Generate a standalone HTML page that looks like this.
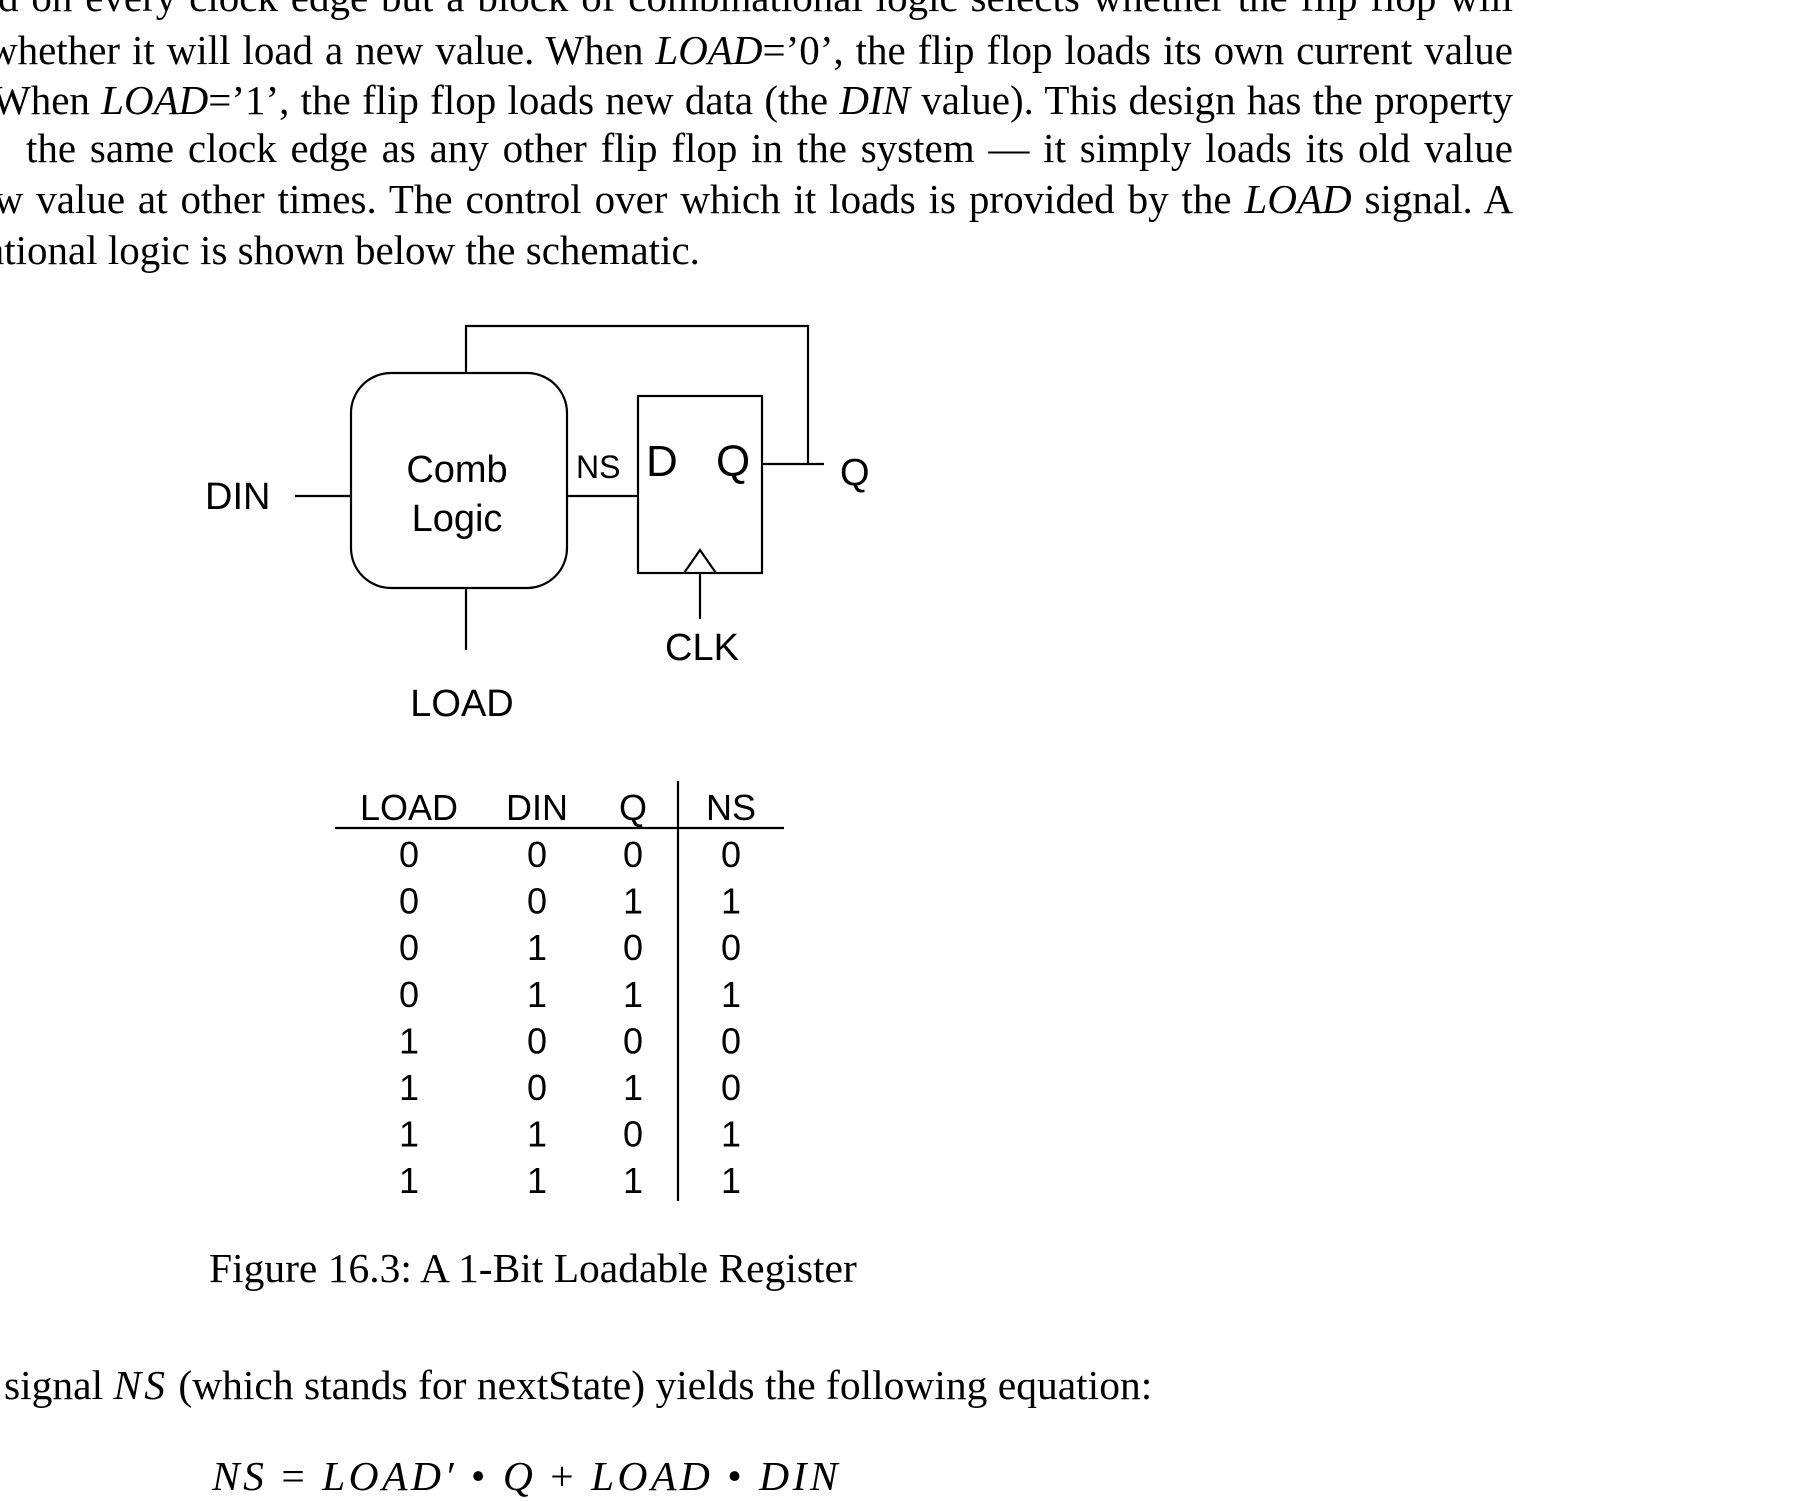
<!DOCTYPE html>
<html><head><meta charset="utf-8"><style>
html,body{margin:0;padding:0;background:#fff;}
#page{position:relative;width:1811px;height:1501px;overflow:hidden;background:#fff;}
.ln{position:absolute;font-family:"Liberation Serif",serif;font-size:41px;line-height:50px;height:50px;text-align:justify;text-align-last:justify;color:#000;white-space:normal;}
.ln i{font-style:italic;}
svg{position:absolute;left:0;top:0;}
</style></head><body>
<div id="page">
<div class="ln" style="left:-2px;width:1515px;top:-28px;">d on every clock edge but a block of combinational logic selects whether the flip flop will</div>
<div class="ln" style="left:-12px;width:1525px;top:25px;">whether it will load a new value. When <i>LOAD</i>=’0’, the flip flop loads its own current value</div>
<div class="ln" style="left:-8px;width:1521px;top:75px;">When <i>LOAD</i>=’1’, the flip flop loads new data (the <i>DIN</i> value). This design has the property</div>
<div class="ln" style="left:26px;width:1487px;top:123px;">the same clock edge as any other flip flop in the system — it simply loads its old value</div>
<div class="ln" style="left:-45px;width:1558px;top:174px;">new value at other times. The control over which it loads is provided by the <i>LOAD</i> signal. A</div>
<div class="ln" style="left:-14px;width:1000px;top:225px;text-align:left;text-align-last:left;">ational logic is shown below the schematic.</div>

<svg width="1811" height="1501" viewBox="0 0 1811 1501">
<g stroke="#000" stroke-width="2.2" fill="none">
<path d="M466 372 V326 H808 V464"/>
<rect x="351" y="373" width="216" height="215" rx="40" ry="40"/>
<rect x="638" y="396" width="124" height="177"/>
<line x1="295" y1="496" x2="351" y2="496"/>
<line x1="567" y1="496" x2="638" y2="496"/>
<line x1="762" y1="464" x2="824" y2="464"/>
<line x1="466" y1="588" x2="466" y2="650"/>
<line x1="700" y1="573" x2="700" y2="619"/>
<path d="M684 573 L700 550 L716 573"/>
<line x1="335" y1="828" x2="784" y2="828"/>
<line x1="678" y1="781" x2="678" y2="1201"/>
</g>
<g font-family="Liberation Sans, sans-serif" fill="#000">
<text x="205" y="509" font-size="38">DIN</text>
<text x="457" y="482" font-size="38" text-anchor="middle">Comb</text>
<text x="457" y="531" font-size="38" text-anchor="middle">Logic</text>
<text x="576" y="478" font-size="32">NS</text>
<text x="646" y="476" font-size="44">D</text>
<text x="716" y="476" font-size="44">Q</text>
<text x="840" y="485" font-size="38">Q</text>
<text x="702" y="660" font-size="38" text-anchor="middle">CLK</text>
<text x="462" y="716" font-size="38" text-anchor="middle">LOAD</text>
<g id="truth" font-size="36" text-anchor="middle"></g>
</g>
<g font-family="Liberation Serif, serif" fill="#000" font-size="41.5">
<text x="209" y="1282">Figure 16.3: A 1-Bit Loadable Register</text>
<text x="4" y="1399">signal <tspan font-style="italic" letter-spacing="3">NS</tspan> (which stands for nextState) yields the following equation:</text>
<text x="212" y="1490" font-style="italic" letter-spacing="3.5">NS <tspan font-style="normal">= </tspan>LOAD′ <tspan font-style="normal">• </tspan>Q <tspan font-style="normal">+ </tspan>LOAD <tspan font-style="normal">• </tspan>DIN</text>
</g>
</svg>
</div>
<script>
const headers=["LOAD","DIN","Q","NS"];
const colLOAD=[0,0,0,0,1,1,1,1];
const colDIN=[0,0,1,1,0,0,1,1];
const colQ=[0,1,0,1,0,1,0,1];
const colNS=[0,1,0,1,0,0,1,1];
const cols=[colLOAD,colDIN,colQ,colNS];
const colX=[409,537,633,731];
const g=document.getElementById('truth');
const NS='http://www.w3.org/2000/svg';
function rowY(i){return 867+i*46.6;}
headers.forEach((h,c)=>{
  const t=document.createElementNS(NS,'text');
  t.setAttribute('x',colX[c]);t.setAttribute('y',820);t.textContent=h;
  
  
  g.appendChild(t);
});
cols.forEach((arr,c)=>{
  arr.forEach((v,i)=>{
    const t=document.createElementNS(NS,'text');
    t.setAttribute('x',colX[c]);t.setAttribute('y',rowY(i));t.textContent=String(v);
    
    
    g.appendChild(t);
  });
});
</script>
</body></html>
